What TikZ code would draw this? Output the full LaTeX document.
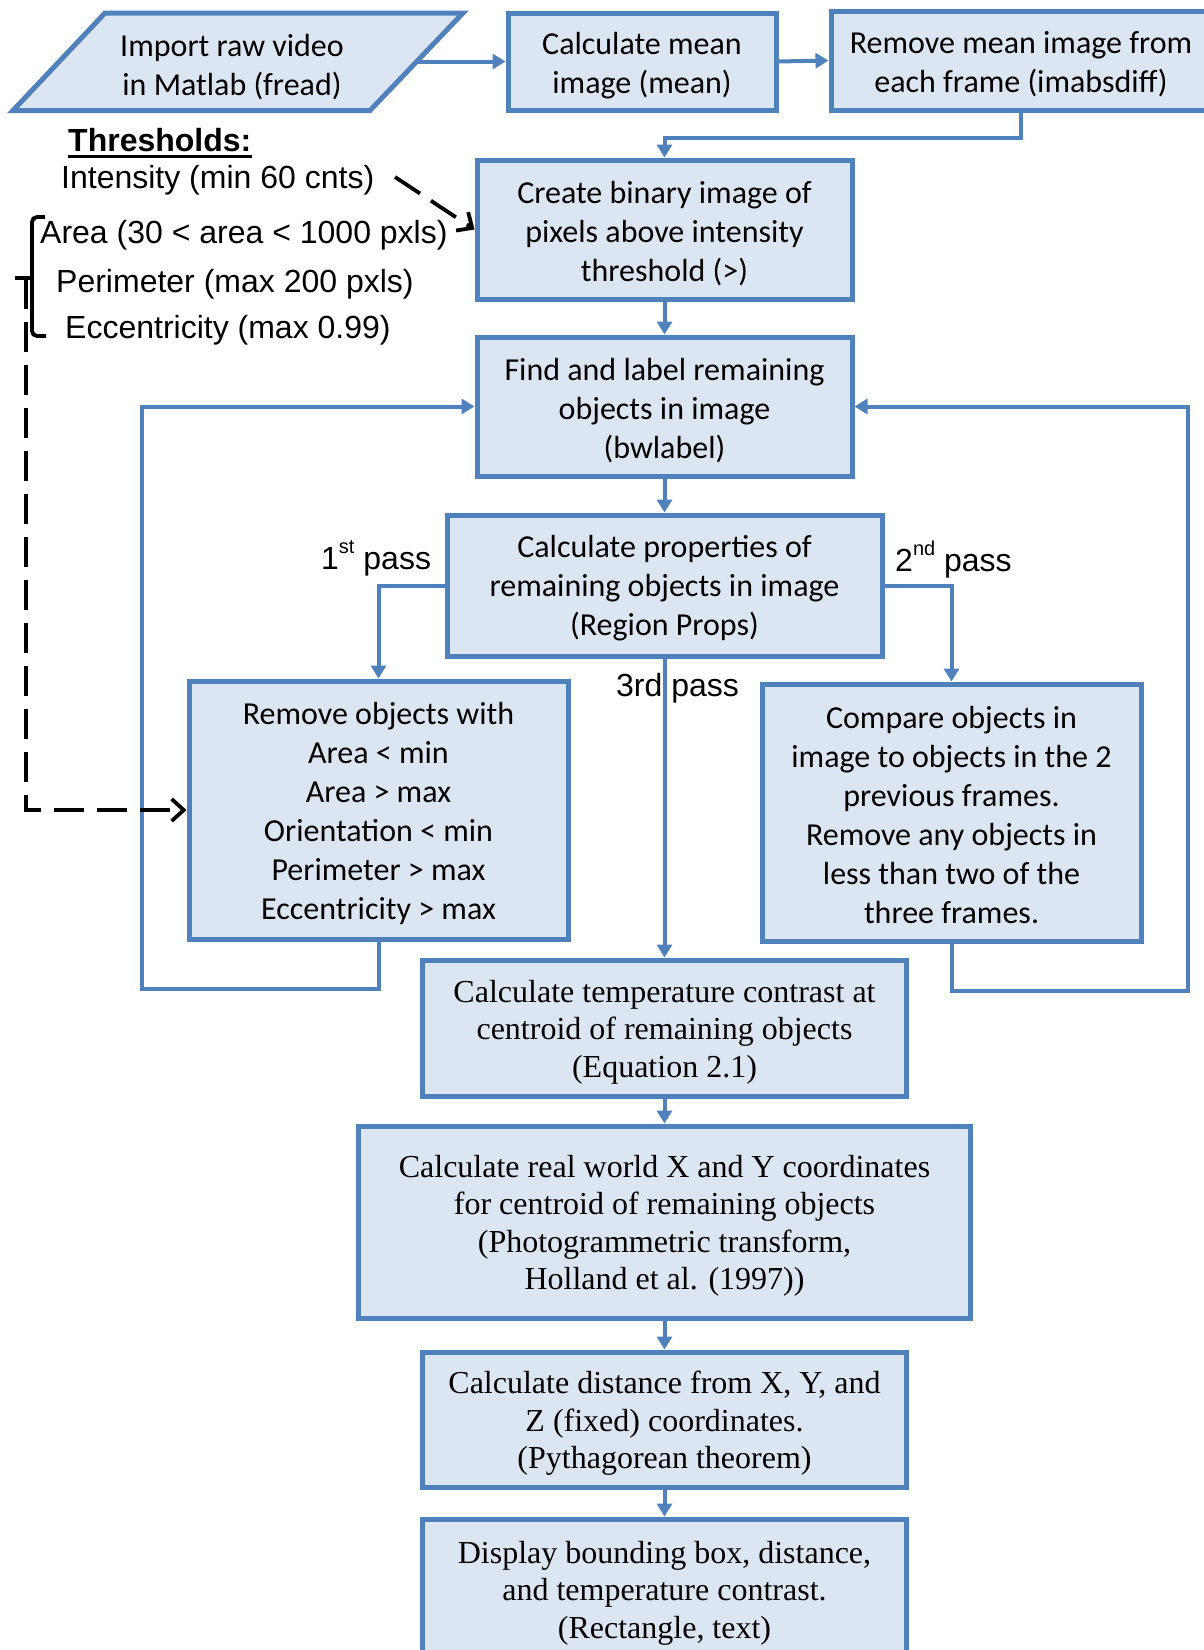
\documentclass[tikz,border=0pt]{standalone}
\usepackage{fontspec}
\setmainfont{Carlito}
\newfontfamily\arialf{Liberation Sans}
\newfontfamily\timesf{Liberation Serif}
\usetikzlibrary{arrows.meta}
\definecolor{bord}{HTML}{4F81BD}
\definecolor{fillc}{HTML}{DCE6F2}
\begin{document}
\begin{tikzpicture}[x=1pt,y=-1pt,
  boxline/.style={draw=bord, fill=fillc, line width=5pt},
  txt/.style={inner sep=0pt, align=center, font=\fontsize{32}{39}\selectfont},
  ttxt/.style={inner sep=0pt, align=center, font=\timesf\fontsize{32}{37.5}\selectfont},
  box/.style={boxline, inner sep=0pt},
  conn/.style={draw=bord, line width=4pt, -{Triangle[length=13pt,width=15pt]}},
  lbl/.style={font=\arialf\fontsize{32}{37}\selectfont, inner sep=0pt},
  dsh/.style={draw=black, line width=3.8pt, dash pattern=on 30pt off 13pt, -{Straight Barb[length=12pt,width=22pt]}}]
\useasboundingbox (0,0) rectangle (1204,1650);
\clip (0,0) rectangle (1204,1650);

% input parallelogram
\filldraw[boxline] (13,110.5) -- (370,110.5) -- (463,13) -- (105,13) -- cycle;
\node[txt] (imp) at (232,67) {Import raw video\\in Matlab (fread)};
\coordinate (impR) at (416.5,61.5);

\node[box, minimum width=268pt, minimum height=97pt,
  label={[txt,yshift=-4pt]center:{Calculate mean\\image (mean)}}] (mean) at (642,61.5) {};
\node[box, minimum width=380pt, minimum height=99pt,
  label={[txt,yshift=-4pt]center:{Remove mean image from\\each frame (imabsdiff)}}] (rm) at (1021,60.5) {};
\node[box, minimum width=375pt, minimum height=139pt,
  label={[txt,yshift=-4pt]center:{Create binary image of\\pixels above intensity\\threshold (>)}}] (create) at (664.5,229.5) {};
\node[box, minimum width=375pt, minimum height=139pt,
  label={[txt,yshift=-4pt]center:{Find and label remaining\\objects in image\\(bwlabel)}}] (find) at (664.5,406.5) {};
\node[box, minimum width=435pt, minimum height=141pt,
  label={[txt,yshift=-3pt]center:{Calculate properties of\\remaining objects in image\\(Region Props)}}] (props) at (664.5,585.5) {};
\node[box, minimum width=379pt, minimum height=258pt,
  label={[txt,yshift=-3pt]center:{Remove objects with\\Area < min\\Area > max\\Orientation < min\\Perimeter > max\\Eccentricity > max}}] (remove) at (378.5,810) {};
\node[box, minimum width=379pt, minimum height=257pt,
  label={[txt,yshift=-3pt]center:{Compare objects in\\image to objects in the 2\\previous frames.\\Remove any objects in\\less than two of the\\three frames.}}] (compare) at (951.5,812.5) {};
\node[box, minimum width=484pt, minimum height=136pt,
  label={[ttxt,yshift=-4pt]center:{Calculate temperature contrast at\\centroid of remaining objects\\(Equation 2.1)}}] (temp) at (664.5,1028) {};
\node[box, minimum width=612pt, minimum height=192pt,
  label={[ttxt,yshift=-4pt]center:{Calculate real world X and Y coordinates\\for centroid of remaining objects\\(Photogrammetric transform,\\Holland et al. (1997))}}] (real) at (664.5,1222) {};
\node[box, minimum width=484pt, minimum height=135pt,
  label={[ttxt,yshift=-4pt]center:{Calculate distance from X, Y, and\\Z (fixed) coordinates.\\(Pythagorean theorem)}}] (dist) at (664.5,1419.5) {};
\node[box, minimum width=484pt, minimum height=140pt,
  label={[ttxt,yshift=-4pt]center:{Display bounding box, distance,\\and temperature contrast.\\(Rectangle, text)}}] (disp) at (664.5,1589) {};

% connectors
\draw[conn] (impR) -- (mean.west);
\draw[conn] (mean.east) -- (rm.west);
\draw[conn] (rm.south) -- ++(0,25) -| (create.north);
\draw[conn] (create.south) -- (find.north);
\draw[conn] (find.south) -- (props.north);
\draw[conn] (props.west) -| (remove.north);
\draw[conn] (props.east) -| (compare.north);
\draw[conn] (props.south) -- (props.south |- temp.north);
\draw[conn] (remove.south) -- ++(0,47) -| (142,406.5) -- (find.west);
\draw[conn] (compare.south) -- ++(0,47) -| (1188,406.5) -- (find.east);
\draw[conn] (temp.south) -- (real.north);
\draw[conn] (real.south) -- (dist.north);
\draw[conn] (dist.south) -- (disp.north);

% pass labels
\node[lbl, anchor=west] (p1) at (321,558) {1\raisebox{0.5em}{\fontsize{20}{20}\selectfont st} pass};
\node[lbl, anchor=west] (p2) at (895,560) {2\raisebox{0.5em}{\fontsize{20}{20}\selectfont nd} pass};
\node[lbl, anchor=west] (p3) at (616,688) {3rd pass};

% thresholds
\node[lbl, anchor=west, font=\arialf\bfseries\fontsize{32}{37}\selectfont] (th) at (68,140) {Thresholds:};
\draw[line width=2.5pt] ([yshift=-5pt]th.base west) -- ([yshift=-5pt]th.base east);
\node[lbl, anchor=west] (int) at (61,180) {Intensity (min 60 cnts)};
\node[lbl, anchor=west] (area) at (40,235) {Area (30 < area < 1000 pxls)};
\node[lbl, anchor=west] (per) at (56,284) {Perimeter (max 200 pxls)};
\node[lbl, anchor=west] (ecc) at (65,330) {Eccentricity (max 0.99)};

% bracket
\draw[line width=3.8pt, rounded corners=5pt] (45,217) -- (32,217) -- (32,336) -- (46,336);
\draw[line width=4.5pt] (32,278) -- (15,278);

% dashed arrows
\coordinate (intA) at (395,177);
\draw[dsh] (intA) -- (create.west);
\coordinate (brk) at (26,279);
\draw[dsh] (brk) -- (26,810) -- (remove.west);
\end{tikzpicture}
\end{document}
